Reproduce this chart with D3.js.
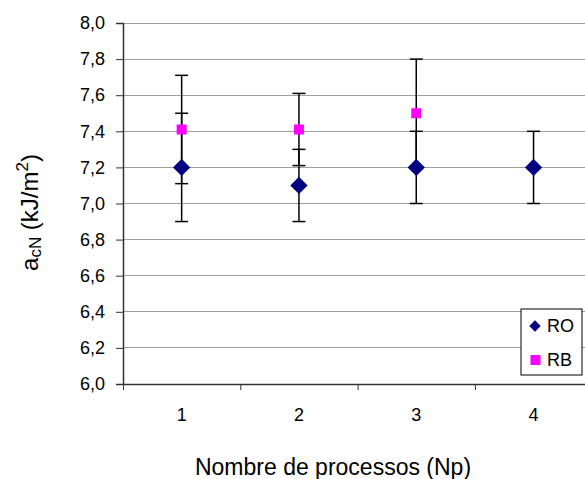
<!DOCTYPE html>
<html>
<head>
<meta charset="utf-8">
<script src="https://cdn.jsdelivr.net/npm/d3@7/dist/d3.min.js"></script>
<style>
  html, body { margin: 0; padding: 0; background: #fff; }
  svg { display: block; font-family: Arial, "Liberation Sans", sans-serif; }
</style>
</head>
<body>
<svg id="chart" width="585" height="479"></svg>
<script>
// Number of processing passes (Np)
const categories = [1, 2, 3, 4];
// Notched impact strength a_cN (kJ/m²) per series
const roValues = [7.2, 7.1, 7.2, 7.2];
const roErrors = [0.3, 0.2, 0.2, 0.2];
const rbValues = [7.41, 7.41, 7.5, null];
const rbErrors = [0.3, 0.2, 0.3, null];
const yTicks = [6.0, 6.2, 6.4, 6.6, 6.8, 7.0, 7.2, 7.4, 7.6, 7.8, 8.0];

const svg = d3.select("#chart");
const plotLeft = 123, plotTop = 23, plotBottom = 384, bandW = 117.3;
const plotRight = plotLeft + bandW * categories.length;

const x = d3.scaleLinear().domain([0.5, categories.length + 0.5]).range([plotLeft, plotRight]);
const y = d3.scaleLinear().domain([6, 8]).range([plotBottom, plotTop]);
const fmt = v => d3.format(".1f")(v).replace(".", ",");

// horizontal gridlines
svg.append("g").selectAll("line").data(yTicks.slice(1)).join("line")
  .attr("x1", plotLeft).attr("x2", plotRight)
  .attr("y1", d => y(d)).attr("y2", d => y(d))
  .attr("stroke", "#a0a0a0").attr("stroke-width", 1)
  .attr("shape-rendering", "crispEdges");

// y axis
const yAxis = svg.append("g").attr("transform", `translate(${plotLeft},0)`)
  .call(d3.axisLeft(y).tickValues(yTicks).tickFormat(fmt).tickSize(7).tickPadding(11));
yAxis.select(".domain").attr("stroke", "#333").attr("stroke-width", 1.5);
yAxis.selectAll(".tick line").attr("stroke", "#333");
yAxis.selectAll("text").attr("font-size", 18).attr("fill", "#000")
  .attr("font-family", "Arial, 'Liberation Sans', sans-serif");

// x axis: ticks between categories, labels at centres
const xAxis = svg.append("g").attr("transform", `translate(0,${plotBottom})`)
  .call(d3.axisBottom(x).tickValues(d3.range(0.5, categories.length + 1, 1)).tickFormat("").tickSize(6).tickSizeOuter(0));
xAxis.select(".domain").attr("stroke", "#333").attr("stroke-width", 1.5);
xAxis.selectAll(".tick line").attr("stroke", "#333");
svg.append("g").selectAll("text").data(categories).join("text")
  .attr("x", d => x(d)).attr("y", plotBottom + 37)
  .attr("text-anchor", "middle").attr("font-size", 18).text(d => d);

// error bars
function errorBars(vals, errs) {
  const rows = categories.map((c, i) => ({c, v: vals[i], e: errs[i]})).filter(d => d.v != null);
  const g = svg.append("g").attr("stroke", "#000").attr("stroke-width", 1.5);
  g.selectAll("line.v").data(rows).join("line").attr("class", "v")
    .attr("x1", d => x(d.c)).attr("x2", d => x(d.c))
    .attr("y1", d => y(d.v + d.e)).attr("y2", d => y(d.v - d.e));
  [1, -1].forEach(s => {
    g.selectAll(null).data(rows).join("line")
      .attr("x1", d => x(d.c) - 6.5).attr("x2", d => x(d.c) + 6.5)
      .attr("y1", d => y(d.v + s * d.e)).attr("y2", d => y(d.v + s * d.e));
  });
}
errorBars(roValues, roErrors);
errorBars(rbValues, rbErrors);

// markers
const diamond = d3.symbol().type(d3.symbolSquare).size(150);
svg.append("g").selectAll("path").data(categories.map((c, i) => ({c, v: roValues[i]})))
  .join("path")
  .attr("d", diamond)
  .attr("transform", d => `translate(${x(d.c)},${y(d.v)}) rotate(45)`)
  .attr("fill", "#000080");
svg.append("g").selectAll("rect").data(categories.map((c, i) => ({c, v: rbValues[i]})).filter(d => d.v != null))
  .join("rect")
  .attr("x", d => x(d.c) - 5).attr("y", d => y(d.v) - 5)
  .attr("width", 10).attr("height", 10)
  .attr("fill", "#ff00ff");

// axis titles
svg.append("text").attr("x", 333).attr("y", 475)
  .attr("text-anchor", "middle").attr("font-size", 23).text("Nombre de processos (Np)");
const yt = svg.append("text").attr("transform", `translate(38,${(plotTop + plotBottom) / 2 + 9}) rotate(-90)`)
  .attr("text-anchor", "middle").attr("font-size", 24);
yt.append("tspan").text("a");
yt.append("tspan").attr("font-size", 17).attr("dy", 3).text("cN");
yt.append("tspan").attr("dy", -3).text(" (kJ/m");
yt.append("tspan").attr("font-size", 17).attr("dy", -10).text("2");
yt.append("tspan").attr("dy", 10).text(")");

// legend
const lg = svg.append("g").attr("transform", "translate(521,309)");
lg.append("rect").attr("width", 61).attr("height", 66)
  .attr("fill", "#fff").attr("stroke", "#000").attr("stroke-width", 1);
lg.append("path").attr("d", d3.symbol().type(d3.symbolSquare).size(64))
  .attr("transform", "translate(14,17) rotate(45)").attr("fill", "#000080");
lg.append("rect").attr("x", 9.5).attr("y", 46).attr("width", 10).attr("height", 10).attr("fill", "#ff00ff");
lg.append("text").attr("x", 26).attr("y", 23).attr("font-size", 18).text("RO");
lg.append("text").attr("x", 26).attr("y", 57).attr("font-size", 18).text("RB");
</script>
</body>
</html>
